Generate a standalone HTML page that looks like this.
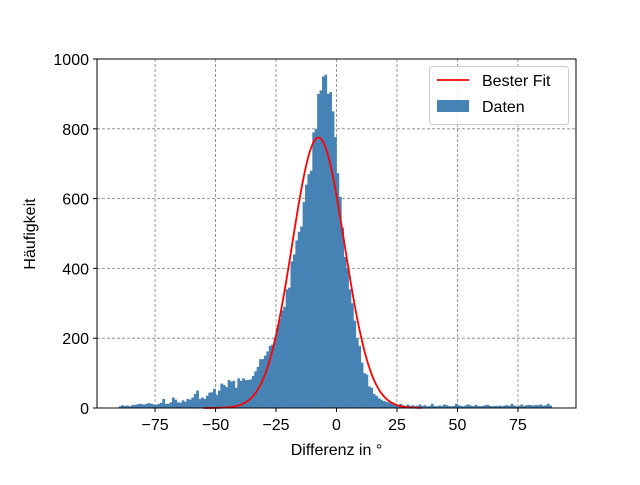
<!DOCTYPE html>
<html><head><meta charset="utf-8"><style>
body{margin:0;background:#fff;}
text{font-family:"Liberation Sans","DejaVu Sans",sans-serif;fill:#000;}
</style></head><body>
<svg id="chart" width="640" height="480" xmlns="http://www.w3.org/2000/svg">
<rect width="640" height="480" fill="#fff"/>
<g id="grid"></g><g id="bars"></g><g id="fit"></g><g id="axes"></g><g id="legend"></g>
</svg>
<script>
const binStart = -90;
const binWidth = 1;
const counts = [
5,8,6,7,5,8,9,10,12,11,10,12,14,12,10,9,12,15,26,12,12,16,30,24,16,15,22,18,26,24,30,40,50,26,30,26,35,44,45,55,38,50,70,66,60,80,76,78,58,85,
78,85,80,80,82,92,105,118,140,140,150,162,178,182,200,230,255,280,290,340,345,420,440,480,505,520,590,640,670,680,790,800,900,910,950,955,900,905,850,776,673,605,516,433,400,340,300,250,200,178,130,100,96,62,58,40,35,28,24,20,18,
16,14,10,9,8,12,8,6,10,6,8,5,7,10,6,8,5,6,12,6,5,7,6,10,8,6,5,6,12,8,6,5,8,10,7,5,9,6,5,6,8,9,6,5,6,6,7,5,7,8,6,12,7,5,6,10,6,8,9,8,7,9,8,10,6,8,12,7];
const fitMu = -7.5;
const fitSigma = 10.8;
const fitAmp = 775;
const xTicks = [-75,-50,-25,0,25,50,75];
const yTicks = [0,200,400,600,800,1000];

const X0=97,X1=576,Y0=408,Y1=59,XMIN=-99,XMAX=99,YMAX=1000;
const sx=v=>X0+(v-XMIN)/(XMAX-XMIN)*(X1-X0);
const sy=v=>Y0-v/YMAX*(Y0-Y1);
const NS="http://www.w3.org/2000/svg";
function mk(tag,attrs,parent){const e=document.createElementNS(NS,tag);for(const k in attrs)e.setAttribute(k,attrs[k]);parent.appendChild(e);return e;}
const grid=document.getElementById('grid'),bars=document.getElementById('bars'),fit=document.getElementById('fit'),axes=document.getElementById('axes'),legend=document.getElementById('legend');
xTicks.forEach(t=>{const l=mk('line',{x1:sx(t),x2:sx(t),y1:Y1,y2:Y0,stroke:'#808080','stroke-dasharray':'3,2','stroke-width':0.8},grid);

});
yTicks.forEach(t=>{const l=mk('line',{x1:X0,x2:X1,y1:sy(t),y2:sy(t),stroke:'#808080','stroke-dasharray':'3,2','stroke-width':0.8},grid);

});
counts.forEach((c,i)=>{const a=binStart+i*binWidth;const x=sx(a),w=sx(a+binWidth)-x;
const r=mk('rect',{x:x,y:sy(c),width:w+0.3,height:Y0-sy(c),fill:'#4682b4'},bars);

});
let d='';for(let v=-55;v<=35;v+=0.5){const y=fitAmp*Math.exp(-0.5*((v-fitMu)/fitSigma)**2);d+=(d?'L':'M')+sx(v).toFixed(2)+','+sy(y).toFixed(2);}
const p=mk('path',{d:d,fill:'none',stroke:'#ff0000','stroke-width':1.8},fit);


const fr=mk('rect',{x:X0,y:Y1,width:X1-X0,height:Y0-Y1,fill:'none',stroke:'#000','stroke-width':1},axes);


xTicks.forEach(t=>{mk('line',{x1:sx(t),x2:sx(t),y1:Y0,y2:Y0+4,stroke:'#000'},axes);
const tx=mk('text',{x:sx(t),y:Y0+22,'font-size':16,'text-anchor':'middle'},axes);tx.textContent=t<0?'\u2212'+(-t):String(t);

});
yTicks.forEach(t=>{mk('line',{x1:X0-4,x2:X0,y1:sy(t),y2:sy(t),stroke:'#000'},axes);
const tx=mk('text',{x:X0-8,y:sy(t)+6,'font-size':16,'text-anchor':'end'},axes);tx.textContent=String(t);

});
const xt=mk('text',{x:(X0+X1)/2,y:455,'font-size':16,'text-anchor':'middle'},axes);xt.textContent='Differenz in °';


const yt=mk('text',{x:0,y:0,'font-size':16,'text-anchor':'middle',transform:'translate(35,234) rotate(-90)'},axes);yt.textContent='Häufigkeit';


const lb=mk('rect',{x:429.5,y:66.5,width:139,height:58,rx:3,fill:'#fff','fill-opacity':0.8,stroke:'#ccc'},legend);


mk('line',{x1:437,x2:469,y1:80,y2:80,stroke:'#ff0000','stroke-width':1.8},legend);
const l1=mk('text',{x:482,y:86,'font-size':16},legend);l1.textContent='Bester Fit';


mk('rect',{x:437,y:100,width:32,height:12,fill:'#4682b4'},legend);
const l2=mk('text',{x:482,y:112,'font-size':16},legend);l2.textContent='Daten';


</script>
</body></html>
